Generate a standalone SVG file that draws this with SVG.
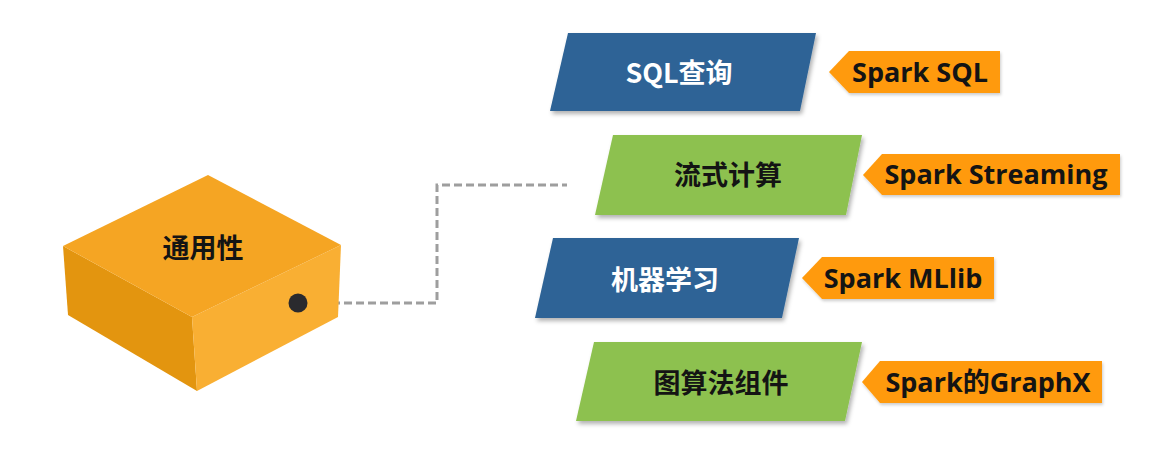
<svg xmlns="http://www.w3.org/2000/svg" width="1152" height="462" viewBox="0 0 1152 462">
  <defs>
    <filter id="sh" x="-10%" y="-20%" width="125%" height="150%">
      <feDropShadow dx="2" dy="3" stdDeviation="2" flood-color="#000" flood-opacity="0.3"/>
    </filter>
    <filter id="shs" x="-10%" y="-20%" width="125%" height="150%">
      <feDropShadow dx="1" dy="2" stdDeviation="1.5" flood-color="#000" flood-opacity="0.2"/>
    </filter>
  </defs>
  <style>
    .cjk { font-family: "Noto Sans CJK SC", "Noto Sans", sans-serif; font-weight: bold; font-size: 27px; text-anchor: middle; }
    .lbl { font-family: "Open Sans", "Noto Sans CJK SC", sans-serif; font-weight: bold; font-size: 27px; text-anchor: middle; fill: #141414; }
    .blue { fill: #2F6496; filter: url(#sh); }
    .green { fill: #8DC14F; filter: url(#sh); }
    .tag { fill: #FF9A0A; filter: url(#shs); }
    .conn { fill: none; stroke: #9E9E9E; stroke-width: 3; stroke-dasharray: 8 4; }
  </style>
  <rect width="1152" height="462" fill="#FFFFFF"/>

  <g id="connectors">
    <polyline class="conn" points="308,303 437,303 437,185 567,185"/>
  </g>

  <g id="box">
    <polygon points="63,246 192,317 197,391 68,315" fill="#E3950F"/>
    <polygon points="192,317 341,245 338,317 197,391" fill="#F9AF33"/>
    <polygon points="208,175 341,245 192,317 63,246" fill="#F5A523"/>
    <text class="cjk" x="203" y="258" fill="#141414">通用性</text>
    <circle cx="298" cy="303" r="9.5" fill="#2A2A2E"/>
  </g>

  <g id="sql">
    <polygon class="blue" points="568,33 816,33 800,111 550,111"/>
    <text class="cjk" x="679" y="83" fill="#FFFFFF">SQL查询</text>
  </g>
  <g id="tag-sql">
    <polygon class="tag" points="829,72 849,51 1000,51 1000,93 849,93"/>
    <text class="lbl" x="920" y="82">Spark SQL</text>
  </g>

  <g id="streaming">
    <polygon class="green" points="613,135 862,135 846,215 595,215"/>
    <text class="cjk" x="728" y="185" fill="#141414">流式计算</text>
  </g>
  <g id="tag-streaming">
    <polygon class="tag" points="863,175 882,154 1120,154 1120,195 882,195"/>
    <text class="lbl" x="996" y="184">Spark Streaming</text>
  </g>

  <g id="ml">
    <polygon class="blue" points="553,238 799,238 782,318 535,318"/>
    <text class="cjk" x="665" y="290" fill="#FFFFFF">机器学习</text>
  </g>
  <g id="tag-ml">
    <polygon class="tag" points="802,278 822,257 994,257 994,299 822,299"/>
    <text class="lbl" x="903" y="288">Spark MLlib</text>
  </g>

  <g id="graph">
    <polygon class="green" points="594,342 862,342 845,421 576,421"/>
    <text class="cjk" x="721" y="393" fill="#141414">图算法组件</text>
  </g>
  <g id="tag-graph">
    <polygon class="tag" points="862,382 880,361 1102,361 1102,403 880,403"/>
    <text class="lbl" x="988" y="392">Spark的GraphX</text>
  </g>
</svg>
